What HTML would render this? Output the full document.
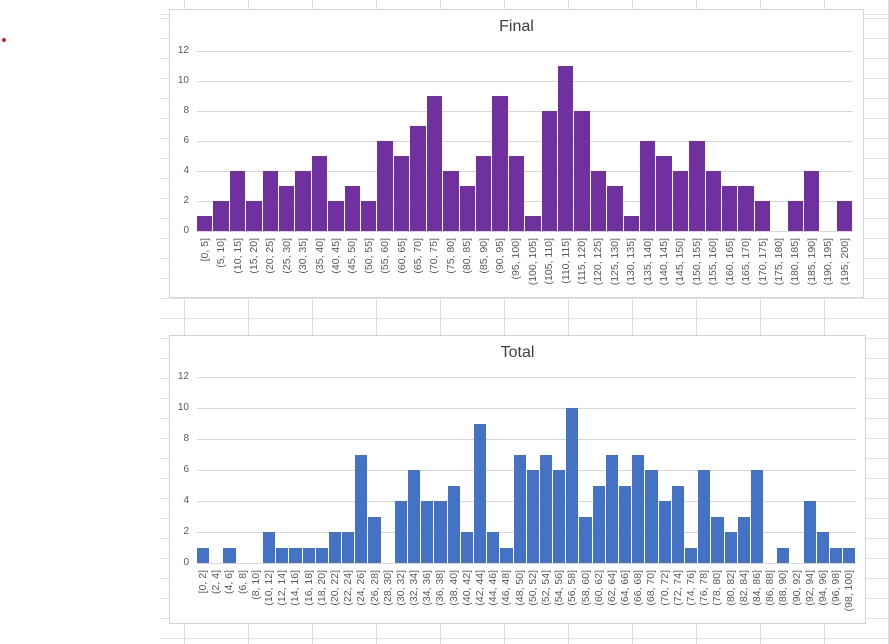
<!DOCTYPE html>
<html><head><meta charset="utf-8"><style>
body{margin:0;width:889px;height:644px;background:#fff;position:relative;overflow:hidden;font-family:"Liberation Sans",sans-serif;}
.sheet{position:absolute;left:160px;top:0;width:729px;height:644px;
background-image:repeating-linear-gradient(to right,#dcdcdc 0 1px,transparent 1px 64px),repeating-linear-gradient(to bottom,#e4e4e4 0 1px,transparent 1px 20px);
background-position:24px 0,0 18px;}
.box{position:absolute;background:#fff;border:1px solid #d4d4d4;}
.title{position:absolute;left:0;right:0;text-align:center;font-size:16px;color:#404040;}
.plot{position:absolute;left:197px;}
.gl{position:absolute;left:0;right:0;height:1px;background:#d9d9d9;}
.yl{position:absolute;left:-40px;width:32px;text-align:right;font-size:10px;color:#595959;line-height:12px;}
.bars{position:absolute;left:0;right:0;bottom:0;top:0;display:flex;align-items:flex-end;}
.bars div{flex:1;margin:0 1px 0 0;}
.labs{position:absolute;left:0;right:0;display:flex;}
.labs div{flex:1;display:flex;justify-content:center;align-items:flex-start;}
.labs span{writing-mode:vertical-rl;transform:rotate(180deg);font-size:10.5px;color:#595959;white-space:nowrap;line-height:11px;}
</style></head><body>
<div style="position:absolute;left:2px;top:38px;width:4px;height:4px;border-radius:50%;background:#d02020"></div>
<div class="sheet"></div>

<div class="box" style="left:169px;top:9px;width:693px;height:287px"></div>
<div class="title" style="left:169px;width:695px;top:18px">Final</div>
<div class="plot" style="top:51px;width:656px;height:181px">
<div class="gl" style="top:0"></div><div class="gl" style="top:30px"></div><div class="gl" style="top:60px"></div><div class="gl" style="top:90px"></div><div class="gl" style="top:120px"></div><div class="gl" style="top:150px"></div><div class="gl" style="top:180px"></div>
<div class="yl" style="top:-6px">12</div><div class="yl" style="top:24px">10</div><div class="yl" style="top:54px">8</div><div class="yl" style="top:84px">6</div><div class="yl" style="top:114px">4</div><div class="yl" style="top:144px">2</div><div class="yl" style="top:174px">0</div>
<div class="bars" style="bottom:1px">
<div style="height:15px;background:#7030a0"></div><div style="height:30px;background:#7030a0"></div><div style="height:60px;background:#7030a0"></div><div style="height:30px;background:#7030a0"></div><div style="height:60px;background:#7030a0"></div><div style="height:45px;background:#7030a0"></div><div style="height:60px;background:#7030a0"></div><div style="height:75px;background:#7030a0"></div><div style="height:30px;background:#7030a0"></div><div style="height:45px;background:#7030a0"></div>
<div style="height:30px;background:#7030a0"></div><div style="height:90px;background:#7030a0"></div><div style="height:75px;background:#7030a0"></div><div style="height:105px;background:#7030a0"></div><div style="height:135px;background:#7030a0"></div><div style="height:60px;background:#7030a0"></div><div style="height:45px;background:#7030a0"></div><div style="height:75px;background:#7030a0"></div><div style="height:135px;background:#7030a0"></div><div style="height:75px;background:#7030a0"></div>
<div style="height:15px;background:#7030a0"></div><div style="height:120px;background:#7030a0"></div><div style="height:165px;background:#7030a0"></div><div style="height:120px;background:#7030a0"></div><div style="height:60px;background:#7030a0"></div><div style="height:45px;background:#7030a0"></div><div style="height:15px;background:#7030a0"></div><div style="height:90px;background:#7030a0"></div><div style="height:75px;background:#7030a0"></div><div style="height:60px;background:#7030a0"></div>
<div style="height:90px;background:#7030a0"></div><div style="height:60px;background:#7030a0"></div><div style="height:45px;background:#7030a0"></div><div style="height:45px;background:#7030a0"></div><div style="height:30px;background:#7030a0"></div><div style="height:0"></div><div style="height:30px;background:#7030a0"></div><div style="height:60px;background:#7030a0"></div><div style="height:0"></div><div style="height:30px;background:#7030a0"></div>
</div>
<div class="labs" style="top:187px">
<div><span>[0, 5]</span></div><div><span>(5, 10]</span></div><div><span>(10, 15]</span></div><div><span>(15, 20]</span></div><div><span>(20, 25]</span></div><div><span>(25, 30]</span></div><div><span>(30, 35]</span></div><div><span>(35, 40]</span></div><div><span>(40, 45]</span></div><div><span>(45, 50]</span></div>
<div><span>(50, 55]</span></div><div><span>(55, 60]</span></div><div><span>(60, 65]</span></div><div><span>(65, 70]</span></div><div><span>(70, 75]</span></div><div><span>(75, 80]</span></div><div><span>(80, 85]</span></div><div><span>(85, 90]</span></div><div><span>(90, 95]</span></div><div><span>(95, 100]</span></div>
<div><span>(100, 105]</span></div><div><span>(105, 110]</span></div><div><span>(110, 115]</span></div><div><span>(115, 120]</span></div><div><span>(120, 125]</span></div><div><span>(125, 130]</span></div><div><span>(130, 135]</span></div><div><span>(135, 140]</span></div><div><span>(140, 145]</span></div><div><span>(145, 150]</span></div>
<div><span>(150, 155]</span></div><div><span>(155, 160]</span></div><div><span>(160, 165]</span></div><div><span>(165, 170]</span></div><div><span>(170, 175]</span></div><div><span>(175, 180]</span></div><div><span>(180, 185]</span></div><div><span>(185, 190]</span></div><div><span>(190, 195]</span></div><div><span>(195, 200]</span></div>
</div>
</div>

<div class="box" style="left:169px;top:335px;width:695px;height:287px"></div>
<div class="title" style="left:169px;width:697px;top:344px">Total</div>
<div class="plot" style="top:377px;width:659px;height:187px">
<div class="gl" style="top:0"></div><div class="gl" style="top:31px"></div><div class="gl" style="top:62px"></div><div class="gl" style="top:93px"></div><div class="gl" style="top:124px"></div><div class="gl" style="top:155px"></div><div class="gl" style="top:186px"></div>
<div class="yl" style="top:-6px">12</div><div class="yl" style="top:25px">10</div><div class="yl" style="top:56px">8</div><div class="yl" style="top:87px">6</div><div class="yl" style="top:118px">4</div><div class="yl" style="top:149px">2</div><div class="yl" style="top:180px">0</div>
<div class="bars" style="bottom:1px">
<div style="height:15.5px;background:#4472c4"></div><div style="height:0"></div><div style="height:15.5px;background:#4472c4"></div><div style="height:0"></div><div style="height:0"></div><div style="height:31px;background:#4472c4"></div><div style="height:15.5px;background:#4472c4"></div><div style="height:15.5px;background:#4472c4"></div><div style="height:15.5px;background:#4472c4"></div><div style="height:15.5px;background:#4472c4"></div>
<div style="height:31px;background:#4472c4"></div><div style="height:31px;background:#4472c4"></div><div style="height:108.5px;background:#4472c4"></div><div style="height:46.5px;background:#4472c4"></div><div style="height:0"></div><div style="height:62px;background:#4472c4"></div><div style="height:93px;background:#4472c4"></div><div style="height:62px;background:#4472c4"></div><div style="height:62px;background:#4472c4"></div><div style="height:77.5px;background:#4472c4"></div>
<div style="height:31px;background:#4472c4"></div><div style="height:139.5px;background:#4472c4"></div><div style="height:31px;background:#4472c4"></div><div style="height:15.5px;background:#4472c4"></div><div style="height:108.5px;background:#4472c4"></div><div style="height:93px;background:#4472c4"></div><div style="height:108.5px;background:#4472c4"></div><div style="height:93px;background:#4472c4"></div><div style="height:155px;background:#4472c4"></div><div style="height:46.5px;background:#4472c4"></div>
<div style="height:77.5px;background:#4472c4"></div><div style="height:108.5px;background:#4472c4"></div><div style="height:77.5px;background:#4472c4"></div><div style="height:108.5px;background:#4472c4"></div><div style="height:93px;background:#4472c4"></div><div style="height:62px;background:#4472c4"></div><div style="height:77.5px;background:#4472c4"></div><div style="height:15.5px;background:#4472c4"></div><div style="height:93px;background:#4472c4"></div><div style="height:46.5px;background:#4472c4"></div>
<div style="height:31px;background:#4472c4"></div><div style="height:46.5px;background:#4472c4"></div><div style="height:93px;background:#4472c4"></div><div style="height:0"></div><div style="height:15.5px;background:#4472c4"></div><div style="height:0"></div><div style="height:62px;background:#4472c4"></div><div style="height:31px;background:#4472c4"></div><div style="height:15.5px;background:#4472c4"></div><div style="height:15.5px;background:#4472c4"></div>
</div>
<div class="labs" style="top:193px">
<div><span>[0, 2]</span></div><div><span>(2, 4]</span></div><div><span>(4, 6]</span></div><div><span>(6, 8]</span></div><div><span>(8, 10]</span></div><div><span>(10, 12]</span></div><div><span>(12, 14]</span></div><div><span>(14, 16]</span></div><div><span>(16, 18]</span></div><div><span>(18, 20]</span></div>
<div><span>(20, 22]</span></div><div><span>(22, 24]</span></div><div><span>(24, 26]</span></div><div><span>(26, 28]</span></div><div><span>(28, 30]</span></div><div><span>(30, 32]</span></div><div><span>(32, 34]</span></div><div><span>(34, 36]</span></div><div><span>(36, 38]</span></div><div><span>(38, 40]</span></div>
<div><span>(40, 42]</span></div><div><span>(42, 44]</span></div><div><span>(44, 46]</span></div><div><span>(46, 48]</span></div><div><span>(48, 50]</span></div><div><span>(50, 52]</span></div><div><span>(52, 54]</span></div><div><span>(54, 56]</span></div><div><span>(56, 58]</span></div><div><span>(58, 60]</span></div>
<div><span>(60, 62]</span></div><div><span>(62, 64]</span></div><div><span>(64, 66]</span></div><div><span>(66, 68]</span></div><div><span>(68, 70]</span></div><div><span>(70, 72]</span></div><div><span>(72, 74]</span></div><div><span>(74, 76]</span></div><div><span>(76, 78]</span></div><div><span>(78, 80]</span></div>
<div><span>(80, 82]</span></div><div><span>(82, 84]</span></div><div><span>(84, 86]</span></div><div><span>(86, 88]</span></div><div><span>(88, 90]</span></div><div><span>(90, 92]</span></div><div><span>(92, 94]</span></div><div><span>(94, 96]</span></div><div><span>(96, 98]</span></div><div><span>(98, 100]</span></div>
</div>
</div>
</body></html>
